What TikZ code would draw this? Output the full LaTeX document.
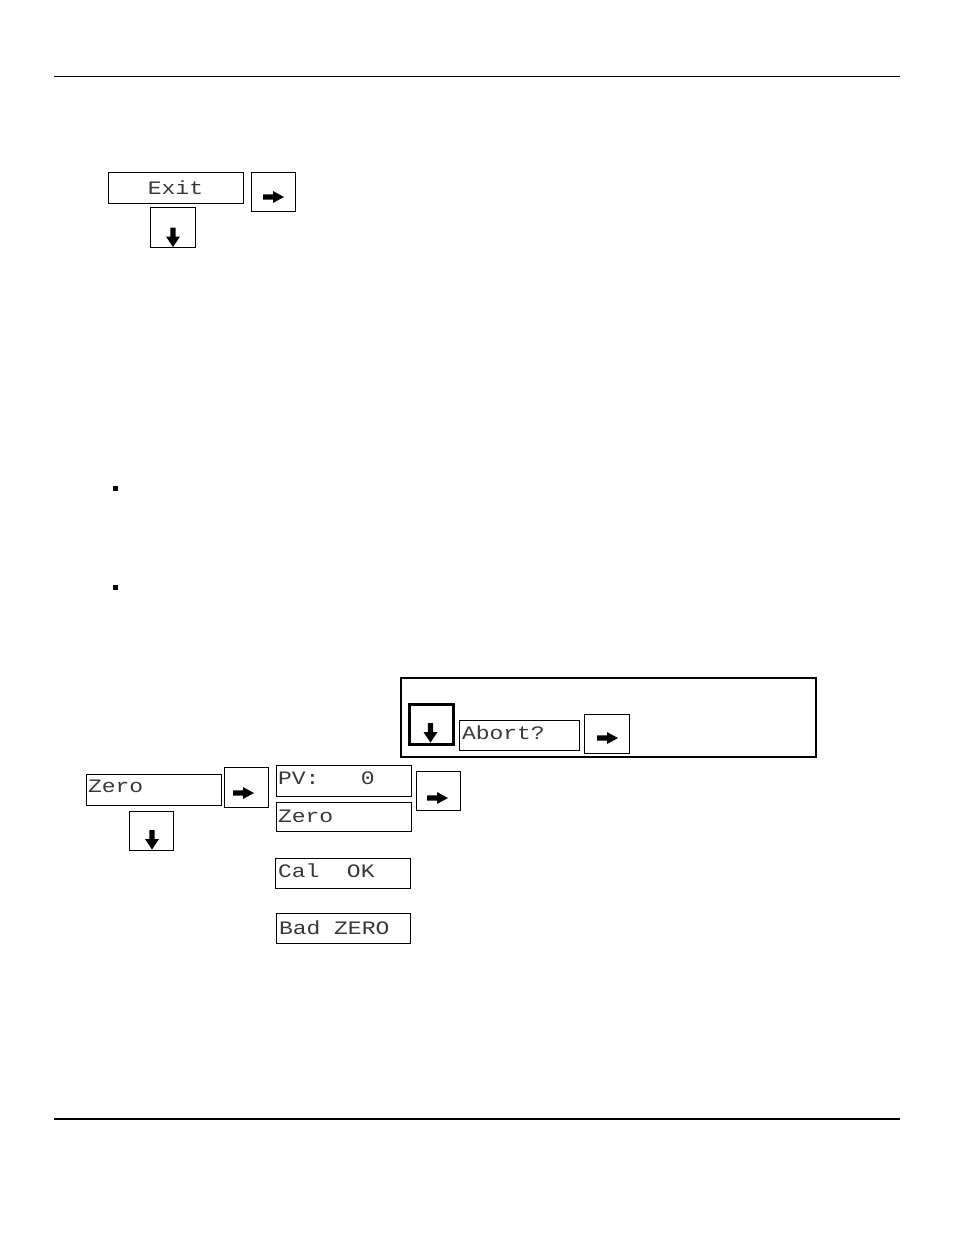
\documentclass[tikz,border=0pt]{standalone}
\usepackage{fontspec}
\newfontfamily\lcdfont[FakeStretch=1.21]{Liberation Mono}
\begin{document}
\begin{tikzpicture}[x=1pt,y=-1pt,
  box/.style={draw, line width=0.9pt, inner sep=0pt, outer sep=0pt},
  lcdtext/.style={inner sep=0pt, outer sep=0pt, anchor=base west, text=black!78, font=\lcdfont\fontsize{19}{19}\selectfont},
  rarr/.pic={\fill (-10,-2.6)--(0,-2.6)--(0,-6)--(11,0)--(0,6)--(0,2.6)--(-10,2.6)--cycle;},
  darr/.pic={\fill (-2.6,-9)--(2.6,-9)--(2.6,0)--(7,0)--(0,10.5)--(-7,0)--(-2.6,0)--cycle;}]
\useasboundingbox (0,0) rectangle (954,1235);
% rules
\draw[line width=1pt] (54,76) -- (900,76);
\draw[line width=1.4pt] (54,1119) -- (900,1119);
% Exit group
\node[box, minimum width=135, minimum height=31] (exitbox) at (175.5,187.5) {};
\node[lcdtext, anchor=base] (exittext) at (175.5,194.5) {Exit};
\node[box, minimum width=44, minimum height=39] (exitright) at (273,191.5) {};
\path (exitright.center) ++(0,5.5) pic {rarr};
\node[box, minimum width=45, minimum height=40] (exitdown) at (172.5,227) {};
\path (exitdown.center) ++(0.5,9.5) pic {darr};
% bullets
\fill (112.5,485.5) rectangle ++(5,5);
\fill (112.5,584.5) rectangle ++(5,5);
% Abort frame
\node[draw, line width=2pt, inner sep=0pt, minimum width=415, minimum height=79] (abortframe) at (608.5,717.5) {};
\node[draw, line width=2.8pt, inner sep=0pt, minimum width=44, minimum height=40] (abortdown) at (431.5,724.5) {};
\path (abortdown.center) ++(-1,7.5) pic {darr};
\node[box, minimum width=120, minimum height=30] (abortbox) at (519,735) {};
\node[lcdtext] (aborttext) at (462,739.5) {Abort?};
\node[box, minimum width=45, minimum height=39] (abortright) at (606.5,733.5) {};
\path (abortright.center) ++(0.5,4.5) pic {rarr};
% Zero group
\node[box, minimum width=135, minimum height=31] (zerobox) at (153.5,789.5) {};
\node[lcdtext] (zerotext) at (88,792.5) {Zero};
\node[box, minimum width=44, minimum height=40] (zeroright) at (246,787) {};
\path (zeroright.center) ++(-3,6) pic {rarr};
\node[box, minimum width=44, minimum height=39] (zerodown) at (151,830.5) {};
\path (zerodown.center) ++(1,8.5) pic {darr};
% PV / Zero display
\node[box, minimum width=135, minimum height=31] (pvbox) at (343.5,780.5) {};
\node[lcdtext] (pvtext) at (278,784.5) {PV:\ \ \ 0};
\node[box, minimum width=135, minimum height=29] (zero2box) at (343.5,816.5) {};
\node[lcdtext] (zero2text) at (278,822.5) {Zero};
\node[box, minimum width=44, minimum height=39] (pvright) at (438,790.5) {};
\path (pvright.center) ++(-1,7.5) pic {rarr};
% results
\node[box, minimum width=135, minimum height=30] (calbox) at (342.5,873) {};
\node[lcdtext] (caltext) at (278,877.5) {Cal\ \ OK};
\node[box, minimum width=134, minimum height=30] (badbox) at (343,928) {};
\node[lcdtext] (badtext) at (279,934.5) {Bad ZERO};
\end{tikzpicture}
\end{document}
